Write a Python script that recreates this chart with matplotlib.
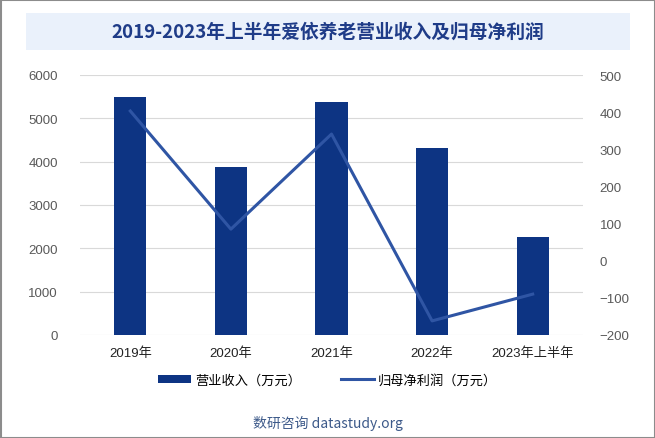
import matplotlib
matplotlib.use("Agg")
import matplotlib.pyplot as plt
from matplotlib.patches import Rectangle
from matplotlib.lines import Line2D
from matplotlib.patches import Patch

plt.rcParams['font.family'] = ['Liberation Sans', 'Noto Sans CJK SC', 'DejaVu Sans']

categories = ["2019年", "2020年", "2021年", "2022年", "2023年上半年"]
revenue = [5500, 3880, 5380, 4320, 2260]
profit = [403, 85, 341, -162, -90]
left_ticks = [0, 1000, 2000, 3000, 4000, 5000, 6000]
right_ticks = [-200, -100, 0, 100, 200, 300, 400, 500]

W, H = 655, 439
fig = plt.figure(figsize=(W/100, H/100), dpi=100)
fig.patch.set_facecolor("white")

# outer frame
fig.add_artist(Rectangle((0.5/W, 0.5/H), 1-1/W, 1-1/H, transform=fig.transFigure,
                         fill=False, edgecolor="#8c8c8c", linewidth=1.5))
# title band
fig.add_artist(Rectangle((26/W, 1-51/H), 604/W, 37/H, transform=fig.transFigure,
                         facecolor="#EAF1FB", edgecolor="none"))
fig.text(0.5, 1-32/H, "2019-2023年上半年爱依养老营业收入及归母净利润", ha="center", va="center",
         fontsize=13.5, fontweight="bold", color="#1F3C88",
         family=['Noto Sans CJK SC', 'DejaVu Sans'])

ax = fig.add_axes([80/W, 1-336/H, 503/W, 260/H])
x = list(range(len(categories)))
ax.bar(x, revenue, width=0.32, color="#0D3483", zorder=3)
ax.set_ylim(0, 6000)
ax.set_yticks(left_ticks)
ax.set_xlim(-0.5, len(categories)-0.5)
ax.set_xticks(x)
ax.set_xticklabels(categories, fontsize=9.5, color="#222222")
ax.grid(axis="y", color="#d9d9d9", linewidth=0.8, zorder=0)
for s in ax.spines.values():
    s.set_visible(False)
ax.tick_params(axis="both", length=0)
ax.tick_params(axis="y", labelsize=9.5, labelcolor="#595959", pad=16)
ax.tick_params(axis="x", pad=8)

ax2 = ax.twinx()
ax2.plot(x, profit, color="#2F55A4", linewidth=2.2, zorder=4)
ax2.set_ylim(-200, 500)
ax2.set_yticks(right_ticks)
for s in ax2.spines.values():
    s.set_visible(False)
ax2.tick_params(axis="y", length=0, labelsize=9.5, labelcolor="#595959", pad=12)

handles = [Patch(facecolor="#0D3483", edgecolor="none"),
           Line2D([0], [0], color="#2F55A4", linewidth=2.2)]
fig.legend(handles, ["营业收入（万元）", "归母净利润（万元）"], loc="center",
           bbox_to_anchor=(0.5, 1-381/H), ncol=2, frameon=False, fontsize=9.5,
           handlelength=2.5, handleheight=0.5, columnspacing=3, handletextpad=0.3,
           prop={'family': ['Noto Sans CJK SC', 'DejaVu Sans'], 'size': 9.5})

fig.text(0.5, 1-423/H, "数研咨询 datastudy.org", ha="center", va="center",
         fontsize=10, color="#3D5A8A", family=['Noto Sans CJK SC', 'DejaVu Sans'])

fig.savefig("out.png", dpi=100)
